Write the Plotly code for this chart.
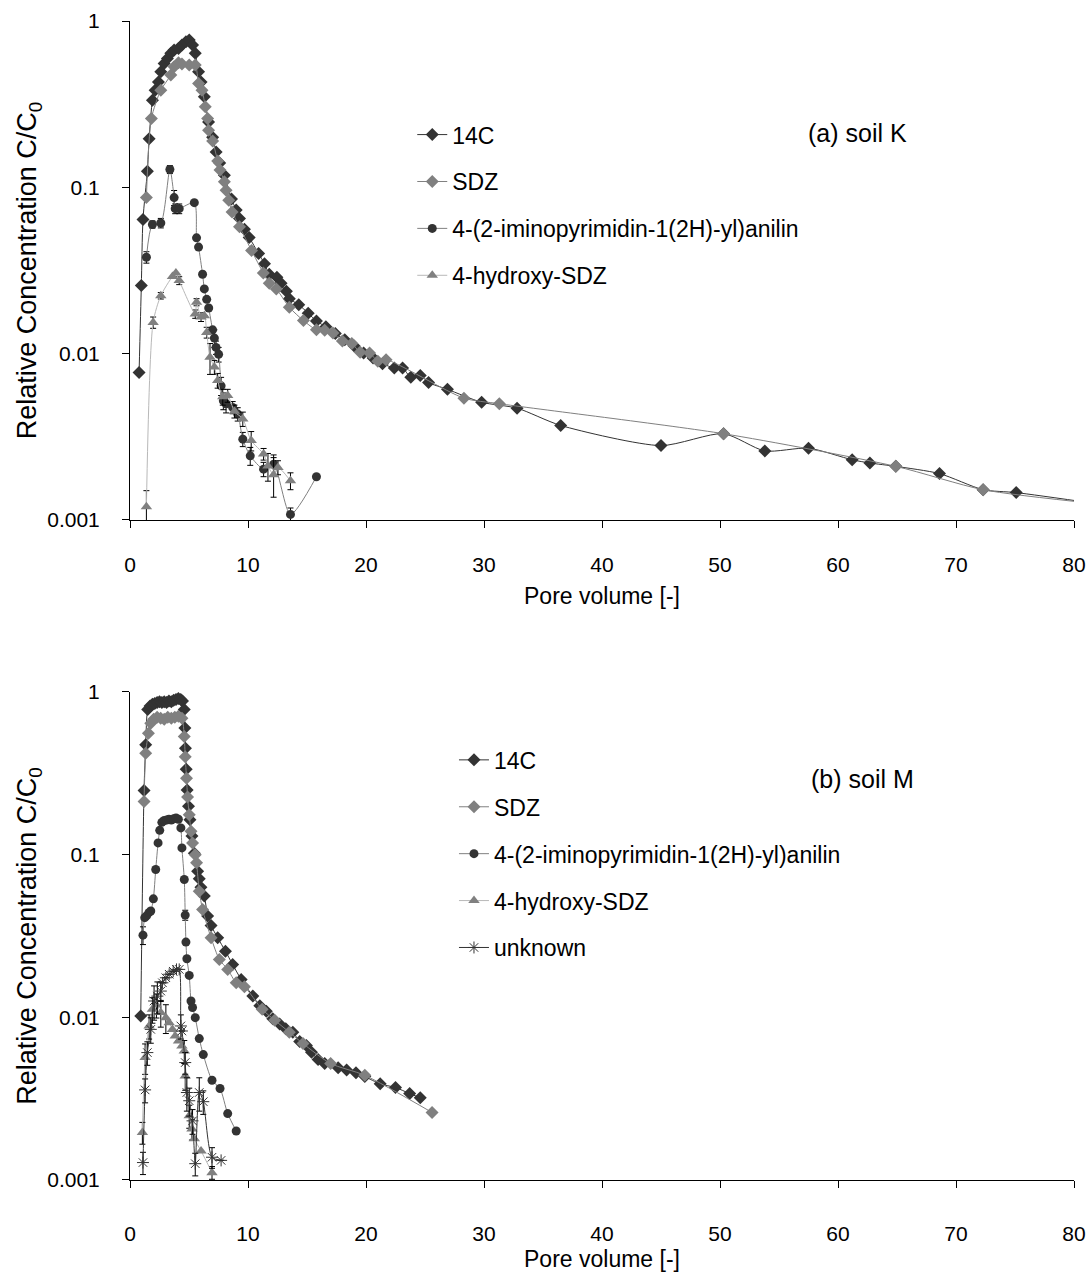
import plotly.graph_objects as go

# ---------------- DATA: (a) soil K ----------------
k_c14_x = [0.77, 0.96, 1.1, 1.47, 1.62, 1.9, 2.13, 2.41, 2.61, 2.89, 3.17, 3.46, 3.74, 4.11, 4.4, 4.74, 5.02, 5.3, 5.53,
           5.81, 6.02, 6.3, 6.66, 7.0, 7.3, 7.6, 8.0, 8.6, 9.0, 9.28, 9.7, 10.1, 10.9, 11.4, 11.8, 12.45, 12.8, 13.25,
           13.5, 14.3, 15.1, 15.8, 16.6, 17.4, 18.2, 19.0, 19.8, 20.6, 21.4, 22.4, 23.1, 23.8, 24.6, 25.3, 26.9, 29.8,
           32.8, 36.5, 45.0, 50.3, 53.8, 57.5, 61.2, 62.7, 64.9, 68.6, 72.3, 75.1, 82.0]
k_c14_y = [0.0077, 0.0257, 0.064, 0.125, 0.196, 0.334, 0.384, 0.43, 0.495, 0.556, 0.596, 0.639, 0.669, 0.684, 0.717,
           0.75, 0.769, 0.717, 0.639, 0.495, 0.43, 0.35, 0.247, 0.2, 0.163, 0.14, 0.118, 0.085, 0.073, 0.065, 0.056,
           0.050, 0.040, 0.0347, 0.030, 0.0288, 0.0265, 0.0237, 0.0214, 0.0197, 0.0175, 0.0157, 0.0145, 0.0132, 0.0121,
           0.0111, 0.0101, 0.0094, 0.0087, 0.0082, 0.0082, 0.0072, 0.0074, 0.0067, 0.0061, 0.0051, 0.0047, 0.0037,
           0.0028, 0.0033, 0.0026, 0.0027, 0.0023, 0.0022, 0.0021, 0.0019, 0.00152, 0.00146, 0.00125]

k_sdz_x = [1.39, 1.81, 2.61, 3.46, 3.74, 4.11, 4.4, 5.02, 5.53, 5.81, 6.1, 6.38, 6.58, 6.66, 7.0, 7.43, 7.63, 8.0, 8.14,
           8.37, 8.65, 9.28, 10.3, 11.3, 11.8, 12.4, 13.5, 14.7, 15.8, 16.5, 17.2, 18.0, 18.8, 19.5, 20.3, 21.0, 21.7,
           28.3, 31.3, 50.3, 64.9, 72.3, 82.0]
k_sdz_y = [0.0867, 0.259, 0.384, 0.473, 0.531, 0.561, 0.551, 0.543, 0.543, 0.421, 0.384, 0.305, 0.259, 0.22, 0.19,
           0.144, 0.127, 0.108, 0.096, 0.0835, 0.071, 0.058, 0.0417, 0.0305, 0.0265, 0.0245, 0.019, 0.0158, 0.0139,
           0.0138, 0.0133, 0.0119, 0.0115, 0.0102, 0.0101, 0.0090, 0.0092, 0.0054, 0.0050, 0.0033, 0.0021, 0.00152,
           0.00125]

k_imin_x = [1.39, 1.9, 2.61, 3.38, 3.74, 3.83, 4.17, 5.45, 5.64, 5.81, 6.15, 6.3, 6.5, 6.67, 7.0, 7.15, 7.29, 7.51,
            7.72, 7.91, 8.14, 8.7, 9.13, 9.56, 10.19, 11.32, 12.17, 13.6, 15.8]
k_imin_y = [0.038, 0.0598, 0.061, 0.128, 0.0867, 0.0744, 0.0744, 0.0809, 0.0497, 0.0437, 0.030, 0.0245, 0.0212,
            0.0188, 0.0139, 0.0124, 0.0109, 0.0099, 0.0064, 0.0052, 0.0050, 0.00475, 0.00433, 0.00306, 0.00243,
            0.00202, 0.00216, 0.00108, 0.00182]
k_imin_err = [0.003, 0.003, 0.004, 0.007, 0.009, 0.005, 0.005, None, None, None, None, None, None, None, None, 0.0015,
              0.001, 0.001, 0.0008, 0.0006, 0.0006, 0.0004, 0.0004, 0.0003, 0.0003, 0.0002, 0.0003, 0.0001, None]

k_hyd_x = [1.39, 1.96, 2.61, 3.6, 3.89, 4.17, 5.53, 5.64, 6.02, 6.3, 6.5, 6.78, 7.15, 7.43, 7.86, 8.28, 8.85, 9.56,
           10.27, 11.32, 11.69, 12.17, 12.54, 13.6]
k_hyd_y = [0.0012, 0.0154, 0.0223, 0.0291, 0.0305, 0.0275, 0.0173, 0.0204, 0.0166, 0.0169, 0.0134, 0.0095, 0.0083,
           0.0069, 0.0055, 0.0056, 0.0045, 0.00405, 0.0030, 0.00249, 0.00211, 0.00187, 0.00207, 0.00172]
k_hyd_err = [0.0003, 0.0012, 0.001, None, None, 0.0015, 0.001, 0.001, 0.001, None, 0.001, 0.002, 0.0008, 0.0007,
             0.0006, 0.0005, 0.0004, 0.0004, 0.0004, 0.0002, 0.0004, 0.0005, 0.0002, 0.0002]

# ---------------- DATA: (b) soil M ----------------
m_c14_x = [0.91, 1.19, 1.33, 1.5, 1.7, 1.9, 2.1, 2.3, 2.5, 2.7, 2.9, 3.1, 3.3, 3.5, 3.7, 3.9, 4.1, 4.3, 4.45, 4.6,
           4.65, 4.7, 4.76, 4.84, 4.96, 5.08, 5.25, 5.45, 5.73, 5.87, 6.01, 6.3, 6.58, 6.87, 7.43, 8.09, 8.7, 9.42,
           10.41, 11.0, 11.55, 12.1, 12.68, 13.2, 13.8, 14.38, 14.95, 15.38, 15.94, 16.5, 17.64, 18.36, 19.15, 19.9,
           21.2, 22.5, 23.7, 24.6]
m_c14_y = [0.0102, 0.248, 0.473, 0.78, 0.82, 0.84, 0.85, 0.86, 0.87, 0.86, 0.87, 0.86, 0.88, 0.87, 0.89, 0.90, 0.91,
           0.90, 0.88, 0.78, 0.6, 0.45, 0.335, 0.25, 0.198, 0.164, 0.13, 0.102, 0.079, 0.071, 0.063, 0.0556, 0.042,
           0.0367, 0.0308, 0.0255, 0.0211, 0.0171, 0.0135, 0.0118, 0.0109, 0.0098, 0.0091, 0.0085, 0.0081, 0.0071,
           0.0067, 0.0061, 0.0055, 0.0052, 0.0049, 0.00475, 0.00457, 0.00432, 0.0039, 0.0037, 0.0034, 0.0032]

m_sdz_x = [1.19, 1.33, 1.56, 1.76, 2.0, 2.3, 2.6, 2.9, 3.2, 3.5, 3.8, 4.1, 4.4, 4.6, 4.68, 4.79, 4.88, 5.02, 5.17, 5.3,
           5.53, 5.64, 5.87, 6.15, 6.87, 7.57, 8.28, 9.0, 9.7, 11.2, 12.26, 13.5, 14.66, 17.0, 19.9, 25.6]
m_sdz_y = [0.212, 0.42, 0.558, 0.643, 0.68, 0.70, 0.69, 0.68, 0.70, 0.69, 0.70, 0.71, 0.69, 0.532, 0.4, 0.295, 0.226,
           0.176, 0.139, 0.118, 0.1, 0.089, 0.0596, 0.046, 0.0308, 0.0227, 0.0197, 0.0163, 0.0154, 0.0112, 0.0096,
           0.0081, 0.0069, 0.0052, 0.0044, 0.0026]

m_imin_x = [1.1, 1.25, 1.4, 1.6, 1.76, 1.98, 2.18, 2.38, 2.52, 2.7, 2.9, 3.1, 3.3, 3.5, 3.7, 3.9, 4.1, 4.31, 4.4, 4.6,
            4.68, 4.74, 4.82, 5.02, 5.17, 5.3, 5.53, 5.87, 6.21, 6.95, 7.63, 8.28, 9.0]
m_imin_y = [0.032, 0.041, 0.042, 0.044, 0.045, 0.0535, 0.081, 0.118, 0.141, 0.158, 0.162, 0.163, 0.165, 0.163, 0.166,
            0.168, 0.165, 0.146, 0.11, 0.0703, 0.0425, 0.029, 0.0229, 0.0181, 0.0126, 0.0115, 0.00995, 0.0074, 0.0059,
            0.0041, 0.00365, 0.00256, 0.0020]
m_imin_err = [0.004, None, None, None, None, None, None, None, None, None, None, None, None, None, None, None, None,
              None, None, None, 0.003, None, None, None, None, None, None, None, None, None, None, None, None]

m_hyd_x = [1.05, 1.28, 1.62, 1.9, 2.24, 2.61, 3.04, 3.32, 3.6, 3.83, 4.11, 4.4, 4.6, 4.68, 5.02, 5.25, 5.45, 6.02, 6.95]
m_hyd_y = [0.00196, 0.00566, 0.00885, 0.0112, 0.0119, 0.0107, 0.00995, 0.00927, 0.00843, 0.00767, 0.00715, 0.00666,
           0.0062, 0.00436, 0.00248, 0.00206, 0.00179, 0.00151, 0.00111]
m_hyd_err = [0.0003, 0.0012, 0.0015, 0.002, 0.002, 0.002, 0.002, None, None, None, None, None, 0.001, 0.0008, 0.0004,
             0.0003, None, None, 0.0001]

m_unk_x = [1.1, 1.28, 1.47, 1.76, 2.04, 2.32, 2.61, 2.75, 3.04, 3.32, 3.66, 3.94, 4.17, 4.31, 4.4, 4.68, 4.82, 5.02,
           5.3, 5.53, 5.87, 6.21, 6.95, 7.72]
m_unk_y = [0.00128, 0.00358, 0.00607, 0.00843, 0.0126, 0.0135, 0.0145, 0.0163, 0.0175, 0.0184, 0.0192, 0.0197, 0.0197,
           0.00885, 0.00824, 0.00527, 0.00345, 0.00307, 0.00231, 0.00126, 0.00345, 0.00303, 0.00138, 0.00132]
m_unk_err = [0.0002, 0.0006, 0.001, 0.0015, 0.003, 0.003, 0.002, None, None, None, None, None, None, 0.0015, None,
             0.0008, 0.0008, 0.0006, 0.0004, 0.0002, 0.0008, 0.0005, 0.0002, None]

x_ticks = [0, 10, 20, 30, 40, 50, 60, 70, 80]
y_ticks = [0.001, 0.01, 0.1, 1]
y_tick_text = ["0.001", "0.01", "0.1", "1"]

series_names = ["14C", "SDZ", "4-(2-iminopyrimidin-1(2H)-yl)anilin", "4-hydroxy-SDZ", "unknown"]

FONT = "Liberation Sans, Arial, sans-serif"
DARK = "#333333"
GREY = "#808080"
LIGHT = "#b8b8b8"

fig = go.Figure()


def err(arr):
    return dict(type="data", array=arr, visible=True, color="black", thickness=1, width=3)


def add(x, y, name, marker, line_color, xa, ya, legend, group, errors=None):
    tr = go.Scatter(
        x=x, y=y, name=name, mode="lines+markers",
        line=dict(color=line_color, width=1, shape="spline", smoothing=0.7),
        marker=marker, xaxis=xa, yaxis=ya, legend=legend, legendgroup=group,
    )
    if errors is not None:
        tr.error_y = err(errors)
    fig.add_trace(tr)


DIA = 10
CIR = 9
TRI = 10
AST = 10

# top panel
add(k_c14_x, k_c14_y, series_names[0], dict(symbol="diamond", size=DIA, color=DARK), DARK, "x", "y", "legend", "a1")
add(k_sdz_x, k_sdz_y, series_names[1], dict(symbol="diamond", size=DIA, color=GREY), GREY, "x", "y", "legend", "a2")
add(k_imin_x, k_imin_y, series_names[2], dict(symbol="circle", size=CIR, color=DARK), GREY, "x", "y", "legend", "a3",
    k_imin_err)
add(k_hyd_x, k_hyd_y, series_names[3], dict(symbol="triangle-up", size=TRI, color=GREY), LIGHT, "x", "y", "legend",
    "a4", k_hyd_err)

# bottom panel
add(m_c14_x, m_c14_y, series_names[0], dict(symbol="diamond", size=DIA, color=DARK), DARK, "x2", "y2", "legend2", "b1")
add(m_sdz_x, m_sdz_y, series_names[1], dict(symbol="diamond", size=DIA, color=GREY), GREY, "x2", "y2", "legend2", "b2")
add(m_imin_x, m_imin_y, series_names[2], dict(symbol="circle", size=CIR, color=DARK), GREY, "x2", "y2", "legend2",
    "b3", m_imin_err)
add(m_hyd_x, m_hyd_y, series_names[3], dict(symbol="triangle-up", size=TRI, color=GREY), LIGHT, "x2", "y2", "legend2",
    "b4", m_hyd_err)
add(m_unk_x, m_unk_y, series_names[4],
    dict(symbol="asterisk-open", size=AST, color=DARK, line=dict(color=DARK, width=1)),
    DARK, "x2", "y2", "legend2", "b5", m_unk_err)

TICKFONT = dict(size=21, color="black")


def xaxis_cfg(standoff, title_standoff):
    return dict(range=[0, 80], tickvals=x_ticks, ticks="outside", ticklen=7, tickwidth=1, tickcolor="black",
                showline=True, linecolor="black", linewidth=1, showgrid=False, zeroline=False, automargin=False,
                tickfont=TICKFONT, ticklabelstandoff=standoff,
                title=dict(text="Pore volume [-]", standoff=title_standoff, font=dict(size=23)))


def yaxis_cfg():
    return dict(type="log", range=[-3, 0], tickvals=y_ticks, ticktext=y_tick_text, ticks="outside", ticklen=7,
                tickwidth=1, tickcolor="black", showline=True, linecolor="black", linewidth=1, showgrid=False,
                zeroline=False, automargin=False, tickfont=TICKFONT, ticklabelstandoff=18,
                title=dict(text="Relative Concentration C/C<sub>0</sub>", standoff=2, font=dict(size=27)))


fig.update_layout(
    width=1088, height=1272,
    margin=dict(l=130, r=14, t=21, b=92, autoexpand=False),
    paper_bgcolor="white", plot_bgcolor="white",
    font=dict(family=FONT, size=22, color="black"),
    xaxis=dict(domain=[0, 1], anchor="y", **xaxis_cfg(19, 12)),
    yaxis=dict(domain=[0.5695, 1], anchor="x", **yaxis_cfg()),
    xaxis2=dict(domain=[0, 1], anchor="y2", **xaxis_cfg(28, 9)),
    yaxis2=dict(domain=[0, 0.4211], anchor="x2", **yaxis_cfg()),
    showlegend=True,
    legend=dict(x=0.299, y=0.9205, xanchor="left", yanchor="top", bgcolor="rgba(0,0,0,0)",
                font=dict(size=23), tracegroupgap=14, itemwidth=30),
    legend2=dict(x=0.3432, y=0.381, xanchor="left", yanchor="top", bgcolor="rgba(0,0,0,0)",
                 font=dict(size=23), tracegroupgap=14, itemwidth=30),
    annotations=[
        dict(text="(a) soil K", x=0.771, y=0.9034, xref="paper", yref="paper", xanchor="center",
             yanchor="middle", showarrow=False, font=dict(size=25)),
        dict(text="(b) soil M", x=0.776, y=0.346, xref="paper", yref="paper", xanchor="center",
             yanchor="middle", showarrow=False, font=dict(size=25)),
    ],
)

fig.write_html("out.html")
